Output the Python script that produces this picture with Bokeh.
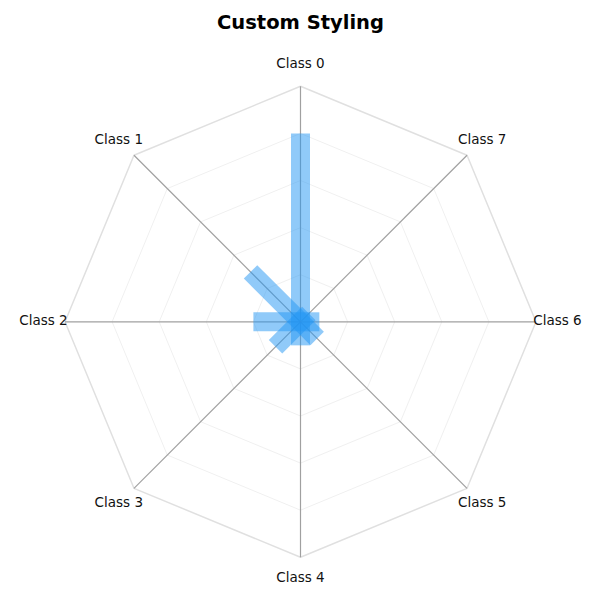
import numpy as np
from bokeh.plotting import figure
from bokeh.models import Range1d, ColumnDataSource
from bokeh.core.properties import value
from bokeh.embed import file_html
from bokeh.resources import INLINE

title_text = "Custom Styling"
categories = ["Class 0", "Class 1", "Class 2", "Class 3", "Class 4", "Class 5", "Class 6", "Class 7"]
values = [0.80, 0.30, 0.20, 0.15, 0.10, 0.10, 0.08, 0.05]
ring_levels = [0.2, 0.4, 0.6, 0.8, 1.0]

W = H = 592
R = 235.5  # pixels per data unit
cx_px, cy_px = 300.0, 321.3
x_range = Range1d(-cx_px / R, (W - cx_px) / R)
y_range = Range1d(-(H - cy_px) / R, cy_px / R)

p = figure(width=W, height=H, x_range=x_range, y_range=y_range,
           output_backend="svg", toolbar_location=None, min_border=0)
p.axis.visible = False
p.grid.visible = False
p.outline_line_color = None
p.background_fill_color = "white"

n = len(categories)
angles = np.pi / 2 + np.arange(n) * 2 * np.pi / n

# rings
for lvl in ring_levels:
    xs = list(lvl * np.cos(angles)) + [lvl * np.cos(angles[0])]
    ys = list(lvl * np.sin(angles)) + [lvl * np.sin(angles[0])]
    if lvl == 1.0:
        p.line(xs, ys, line_color="#e0e0e0", line_width=1.5)
    else:
        p.line(xs, ys, line_color="#f0f0f0", line_width=1)

# spokes
p.segment(x0=[0] * n, y0=[0] * n, x1=list(np.cos(angles)), y1=list(np.sin(angles)),
          line_color="#a0a0a0", line_width=1.2)

# bars
vals = np.array(values)
src = ColumnDataSource(dict(
    x=vals / 2 * np.cos(angles), y=vals / 2 * np.sin(angles),
    w=vals, a=angles))
p.rect(x="x", y="y", width="w", height=19 / R, angle="a", source=src,
       fill_color="#2196F3", fill_alpha=0.5, line_color=None)

# labels
lr = 257.0 / R
p.text(x=list(lr * np.cos(angles)), y=list(lr * np.sin(angles) + 1.5 / R), text=categories,
       text_align="center", text_baseline="middle",
       text_font=value("DejaVu Sans"), text_font_size="13.5px", text_color="#111111")

# title
p.text(x=[0], y=[(cy_px - 22) / R], text=[title_text], text_align="center",
       text_baseline="middle", text_font=value("DejaVu Sans"),
       text_font_size="19.5px", text_font_style="bold", text_color="#000000")

open("out.html", "w").write(file_html(p, INLINE))
